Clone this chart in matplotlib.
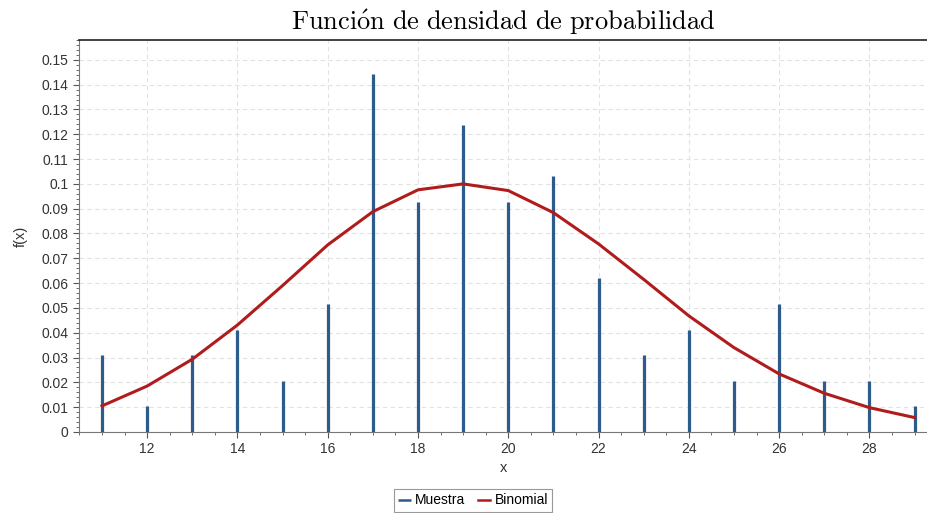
import numpy as np
import matplotlib
matplotlib.use('Agg')
import matplotlib.pyplot as plt
from matplotlib.ticker import MultipleLocator

plt.rcParams['font.family'] = ['Liberation Sans', 'DejaVu Sans']
plt.rcParams['mathtext.fontset'] = 'cm'

# sample frequencies (relative) and binomial pmf for x = 11..29
x = np.arange(11, 30)
muestra = [0.0309, 0.0103, 0.0309, 0.0412, 0.0206, 0.0515, 0.1443, 0.0928, 0.1237, 0.0928,
           0.1031, 0.0619, 0.0309, 0.0412, 0.0206, 0.0515, 0.0206, 0.0206, 0.0103]
binomial = [0.0105, 0.0185, 0.0293, 0.0431, 0.0590, 0.0754, 0.0888, 0.0976, 0.1000, 0.0973,
            0.0884, 0.0758, 0.0615, 0.0468, 0.0340, 0.0234, 0.0156, 0.0098, 0.0058]

blue = '#2d5b8c'
red = '#b01c1c'
grey = '#555555'

fig = plt.figure(figsize=(9.28, 5.13), dpi=100)
ax = fig.add_axes([0.0851, 0.158, 0.915, 0.764])

ax.vlines(x, 0, muestra, color=blue, linewidth=2.3, label='Muestra', zorder=3)
ax.plot(x, binomial, color=red, linewidth=2.2, label='Binomial', zorder=4)

ax.set_xlim(10.49, 29.3)
ax.set_ylim(0, 0.158)
ax.xaxis.set_major_locator(MultipleLocator(2))
ax.xaxis.set_minor_locator(MultipleLocator(0.5))
ax.yaxis.set_major_locator(MultipleLocator(0.01))
ax.yaxis.set_minor_locator(MultipleLocator(0.002))
ax.yaxis.set_major_formatter(plt.FuncFormatter(lambda v, p: '0' if abs(v) < 1e-9 else ('%.2f' % v).rstrip('0')))

ax.grid(which='major', color='#e2e2e2', linestyle=(0, (4, 3)), linewidth=0.8)
ax.set_axisbelow(True)

for s in ['left', 'bottom']:
    ax.spines[s].set_color('#777777')
ax.spines['right'].set_visible(False)
ax.spines['top'].set_color('#222222')
ax.spines['top'].set_linewidth(1.2)

ax.tick_params(which='major', labelsize=10, colors=grey, length=4, width=0.8, labelcolor='#333333')
ax.tick_params(which='minor', colors=grey, length=2, width=0.6)
ax.tick_params(axis='x', which='both', top=False)

ax.set_xlabel('x', fontsize=10.5, color='#333333', labelpad=3)
ax.set_ylabel('f(x)', fontsize=10.5, color='#333333', labelpad=10)
ax.set_title(r'$\mathrm{Funci\acute{o}n\ de\ densidad\ de\ probabilidad}$', fontsize=19, pad=7)

leg = fig.legend(loc='lower center', bbox_to_anchor=(0.51, 0.0), ncol=2, fontsize=10,
                 handlelength=0.9, handletextpad=0.3, columnspacing=0.9, fancybox=False,
                 borderpad=0.3, borderaxespad=0.1, framealpha=1)
leg.get_frame().set_edgecolor('#999999')
leg.get_frame().set_linewidth(0.8)
for h in leg.legend_handles:
    h.set_linewidth(1.8)

plt.savefig('out.png', dpi=100)
